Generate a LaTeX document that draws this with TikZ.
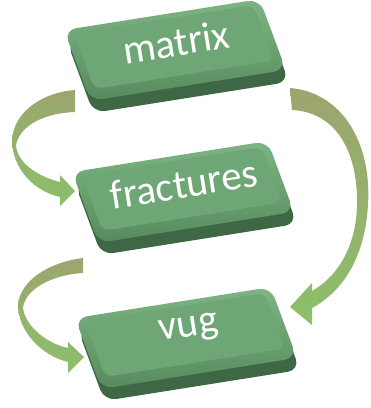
\documentclass[tikz,border=0pt]{standalone}
\usepackage{fontspec}
\setmainfont{Carlito}

\definecolor{keydark}{HTML}{3E6745}
\definecolor{keyedge}{HTML}{578B5D}
\definecolor{keylight}{HTML}{7DB584}
\definecolor{keyfill}{HTML}{6FA676}
\definecolor{ribbontail}{HTML}{9CA56E}
\definecolor{ribbonhead}{HTML}{8CC06A}

\newcommand*\keywidth{198pt}
\newcommand*\keyheight{74pt}

\tikzset{
    keybase/.style={
        rectangle,
        rounded corners=12pt,
        rotate=9,
        xslant=-0.2,
        fill=keydark,
        inner sep=0pt,
        minimum width=\keywidth,
        minimum height=\keyheight
    },
    keyface/.style={
        rectangle,
        rounded corners=12pt,
        rotate=9,
        xslant=-0.2,
        top color=keylight,
        bottom color=keyedge,
        inner sep=0pt,
        minimum width=\keywidth,
        minimum height=\keyheight
    },
    keytop/.style={
        rectangle,
        rounded corners=8pt,
        rotate=9,
        xslant=-0.2,
        fill=keyfill,
        inner sep=0pt,
        minimum width=\keywidth-16pt,
        minimum height=\keyheight-16pt
    },
    keytext/.style={
        rotate=9,
        inner sep=0pt,
        text=white,
        font=\fontsize{41}{44}\selectfont
    },
    ribbon/.style={top color=ribbontail, bottom color=ribbonhead}
}

\begin{document}
\begin{tikzpicture}[x=1pt,y=-1pt]
    \useasboundingbox (0,0) rectangle (371,408);

    % First the curved arrows, behind the keys.
    \shade[ribbon] (75,90) .. controls (45,92) and (14,110) .. (12,140)
        .. controls (12,165) and (30,190) .. (60,197) -- (60,206) -- (75,191)
        -- (60,175) -- (60,182) .. controls (36,176) and (17,162) .. (16,145)
        .. controls (20,125) and (45,113) .. (75,112) -- cycle;
    \shade[ribbon] (83,258) .. controls (50,262) and (20,280) .. (18,305)
        .. controls (18,330) and (40,355) .. (68,362) -- (68,373) -- (84,357)
        -- (68,342) -- (68,348) .. controls (45,343) and (25,325) .. (23,308)
        .. controls (25,290) and (50,275) .. (83,273) -- cycle;
    \shade[ribbon] (290,88) .. controls (340,92) and (372,140) .. (368,205)
        .. controls (365,255) and (345,290) .. (312,308) -- (312,325) -- (290,307)
        -- (312,283) -- (312,291) .. controls (335,278) and (356,250) .. (357,205)
        .. controls (358,150) and (335,112) .. (292,110) -- cycle;

    % Then the keys: dark side, bevelled face, light top, text.
    \node[keybase] (matrixbase) at (178,62) {};
    \node[keyface] (matrixface) at (175,50) {};
    \node[keytop] (matrixtop) at (174,47) {};
    \node[keytext] (matrixkey) at (176,42) {matrix};

    \node[keybase] (fractbase) at (186,204) {};
    \node[keyface] (fractface) at (183,192) {};
    \node[keytop] (fracttop) at (182,189) {};
    \node[keytext] (fractkey) at (184,184) {fractures};

    \node[keybase] (vugbase) at (189,350) {};
    \node[keyface] (vugface) at (186,338) {};
    \node[keytop] (vugtop) at (185,335) {};
    \node[keytext] (vugkey) at (189,330) {vug};

\end{tikzpicture}
\end{document}
